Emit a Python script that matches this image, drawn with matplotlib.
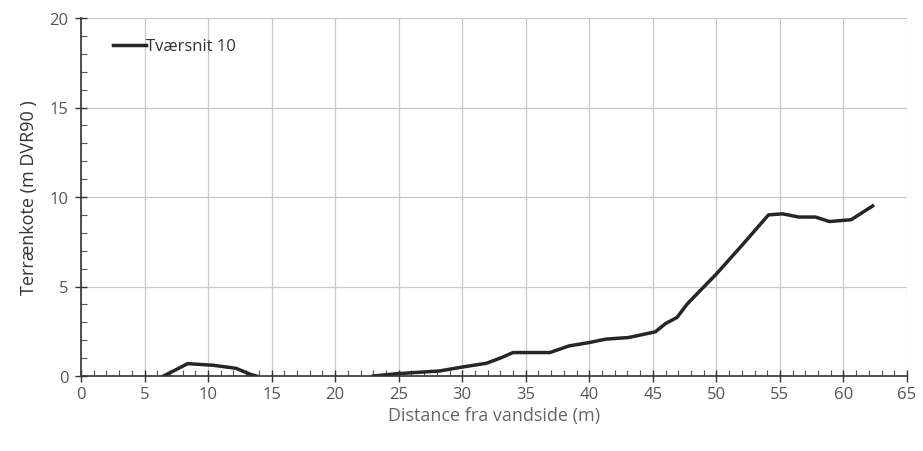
import numpy as np
import matplotlib
matplotlib.use('Agg')
import matplotlib.pyplot as plt
from matplotlib.ticker import MultipleLocator

# data (nan = no line drawn)
afstand = [6.5, 8.4, 10.4, 12.2, 13.3, 13.8, 18.0, 23.0, 24.9, 28.2, 30.0, 31.9, 33.1, 34.0,
           36.9, 38.4, 40.0, 41.3, 43.1, 45.2, 46.0, 46.9, 47.7, 50.0, 52.0, 54.1,
           55.2, 56.5, 57.8, 58.9, 60.6, 62.3]
kote = [0.0, 0.69, 0.6, 0.43, 0.1, 0.0, np.nan, 0.0, 0.13, 0.28, 0.5, 0.71, 1.03, 1.31,
        1.31, 1.68, 1.87, 2.06, 2.15, 2.47, 2.93, 3.27, 4.02, 5.7, 7.29, 9.0,
        9.06, 8.88, 8.88, 8.63, 8.73, 9.5]
serie_navn = 'Tværsnit 10'

plt.rcParams['font.family'] = ['Open Sans', 'DejaVu Sans']

fig = plt.figure(figsize=(9.23, 4.52), dpi=100)
ax = fig.add_axes([81/923, 1 - 377/452, (907-81)/923, (377-19)/452])

ax.plot(afstand, kote, color='#262626', lw=2.5, label=serie_navn)

ax.set_xlim(0, 65)
ax.set_ylim(0, 20)
ax.xaxis.set_major_locator(MultipleLocator(5))
ax.xaxis.set_minor_locator(MultipleLocator(1))
ax.yaxis.set_major_locator(MultipleLocator(5))
ax.yaxis.set_minor_locator(MultipleLocator(1))
ax.grid(True, which='major', color='#c8c8c8', lw=0.9)
ax.set_axisbelow(True)

for s in ['top', 'right']:
    ax.spines[s].set_visible(False)
ax.spines['left'].set_color('#333333')
ax.spines['bottom'].set_color('#333333')
ax.spines['left'].set_linewidth(1.2)
ax.spines['bottom'].set_linewidth(1.2)

ax.tick_params(which='major', direction='inout', length=8, color='#333333', width=1.0,
               labelsize=12, labelcolor='#555555', pad=5)
ax.tick_params(axis='x', which='major', pad=3)
ax.tick_params(which='minor', direction='in', length=4, color='#555555', width=0.8)

ax.set_xlabel('Distance fra vandside (m)', fontsize=13, color='#666666', labelpad=3)
ax.set_ylabel('Terrænkote (m DVR90 )', fontsize=13, color='#333333', labelpad=8)

ax.legend(loc='upper left', frameon=False, fontsize=12, handlelength=2.0,
          handletextpad=0.0, bbox_to_anchor=(0.02, 0.985), labelcolor='#333333')

fig.savefig('out.png', dpi=100)
